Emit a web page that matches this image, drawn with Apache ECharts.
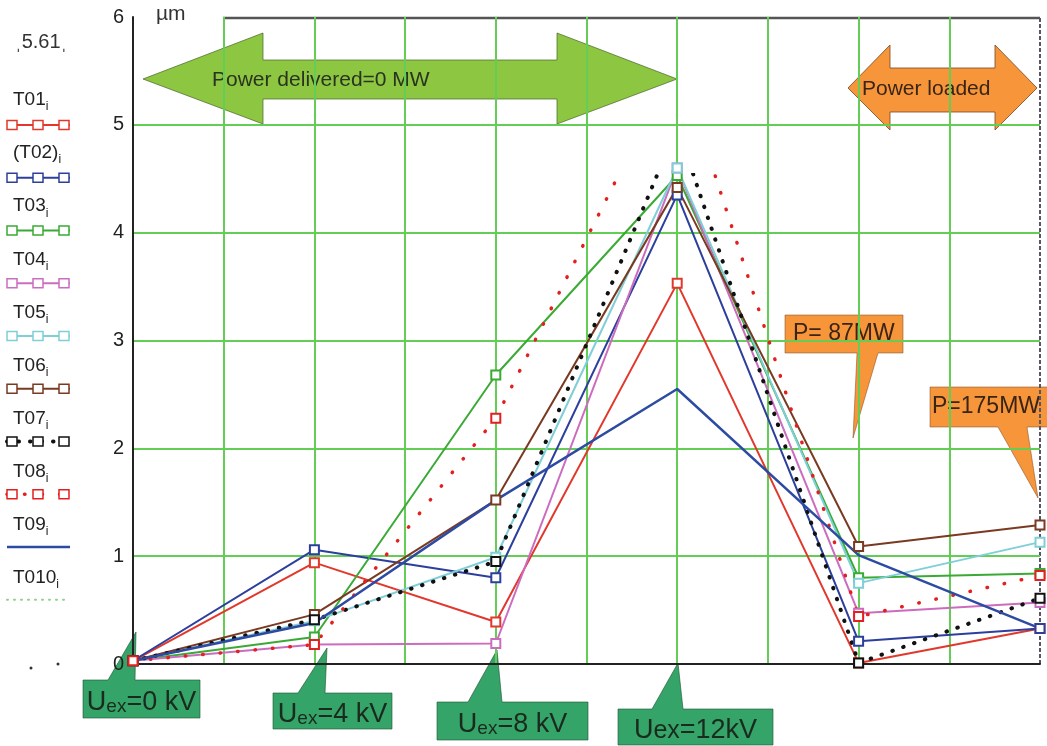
<!DOCTYPE html>
<html>
<head>
<meta charset="utf-8">
<script src="https://cdn.jsdelivr.net/npm/echarts@6.0.0/dist/echarts.min.js"></script>
<style>
html,body{margin:0;padding:0;background:#fff;}
#chart{width:1047px;height:746px;}
</style>
</head>
<body>
<div id="chart"></div>
<script>
// ---- data ----
// x stage positions on a 0..10 grid: Uex=0,4,8,12 kV, then P=87 MW, P=175 MW
const stageX = [0, 2, 4, 6, 8, 10];
const stageLabels = ['0 kV', '4 kV', '8 kV', '12kV', 'P= 87MW', 'P=175MW'];
const yTickValues = [0, 1, 2, 3, 4, 5, 6];

const T01  = [0.03, 0.94, 0.39, 3.53, 0.01, 0.33];
const T02  = [0.03, 1.06, 0.80, 4.35, 0.21, 0.33];
const T03  = [0.03, 0.25, 2.68, 4.53, 0.80, 0.84];
const T04  = [0.03, 0.18, 0.19, 4.60, 0.47, 0.57];
const T05  = [0.03, 0.40, 0.99, 4.60, 0.75, 1.13];
const T06  = [0.03, 0.46, 1.52, 4.42, 1.09, 1.29];
const T07  = [0.03, 0.41, 0.95, 4.98, 0.01, 0.61];
const T08  = [0.03, 0.18, 2.28, 5.61, 0.44, 0.82];
const T09  = [0.03, 0.38, 1.52, 2.55, 1.01, 0.33];
const T010 = [];

const seriesNames = ['T01', '(T02)', 'T03', 'T04', 'T05', 'T06', 'T07', 'T08', 'T09', 'T010'];
const seriesValues = [T01, T02, T03, T04, T05, T06, T07, T08, T09, T010];

// level above which the dotted traces are not visible in the original figure
const HIDE_ABOVE = 4.55;

// ---- styles ----
const styles = [
  {color: '#e2382c', dash: 'solid', width: 2, sym: true},
  {color: '#2c3f9c', dash: 'solid', width: 2, sym: true},
  {color: '#3aaa35', dash: 'solid', width: 2, sym: true},
  {color: '#cc6cbf', dash: 'solid', width: 2, sym: true},
  {color: '#7fcfd8', dash: 'solid', width: 2, sym: true},
  {color: '#7a3a22', dash: 'solid', width: 2, sym: true},
  {color: '#111111', dash: [0.5, 11], width: 4, sym: true, cap: 'round', vm: true},
  {color: '#e32020', dash: [0.5, 17], width: 3.5, sym: true, cap: 'round', vm: true},
  {color: '#2d4ba3', dash: 'solid', width: 2.5, sym: false},
  {color: '#8fd08a', dash: [1, 6], width: 2, sym: false, cap: 'round'}
];

const FONT = '"Liberation Sans", Arial, sans-serif';
const GRID_GREEN = '#63cd55';

const series = seriesNames.map((name, i) => {
  const st = styles[i];
  const s = {
    name: name,
    type: 'line',
    data: seriesValues[i].map((v, j) => [stageX[j], v]),
    symbol: st.sym ? (st.vm ? (val => (val[1] > HIDE_ABOVE ? 'none' : 'emptyRect')) : 'emptyRect') : 'none',
    symbolSize: 9,
    showSymbol: st.sym,
    z: 3,
    lineStyle: {width: st.width, type: st.dash, cap: st.cap || 'butt'},
    itemStyle: {borderWidth: 1.5},
    emphasis: {disabled: true}
  };
  if (!st.vm) {
    s.lineStyle.color = st.color;
    s.itemStyle.color = st.color;
    s.itemStyle.borderColor = st.color;
  }
  return s;
});

// ---- legend drawn as graphics (text above, line sample below) ----
const legendEls = [];
seriesNames.forEach((name, k) => {
  const st = styles[k];
  const ty = 100 + 53.1 * k;
  const iy = 125 + 52.75 * k;
  legendEls.push({
    type: 'text', x: 13, y: ty,
    style: {
      text: '{t|' + name + '}{s|i}',
      rich: {
        t: {fontSize: 19, fontFamily: FONT, fill: '#222', verticalAlign: 'middle', lineHeight: 26},
        s: {fontSize: 12, fontFamily: FONT, fill: '#222', verticalAlign: 'bottom', lineHeight: 26}
      },
      verticalAlign: 'middle'
    }
  });
  legendEls.push({
    type: 'line', shape: {x1: 7, y1: iy, x2: 70, y2: iy},
    style: {stroke: st.color, lineWidth: st.width, lineDash: Array.isArray(st.dash) ? st.dash : null, lineCap: st.cap || 'butt'}
  });
  if (st.sym) {
    [12, 38, 64].forEach(cx => {
      legendEls.push({
        type: 'rect', shape: {x: cx - 5, y: iy - 4.5, width: 10, height: 9},
        style: {fill: '#fff', stroke: st.color, lineWidth: 1.5}
      });
    });
  }
});

// ---- annotations ----
const annEls = [
  // green double arrow
  {type: 'polygon', z: -1,
   shape: {points: [[143,79],[263,33],[263,60],[557,60],[557,33],[677,79],[557,124],[557,99],[263,99],[263,124]]},
   style: {fill: '#8dc641', stroke: 'rgba(70,100,40,0.7)', lineWidth: 1}},
  {type: 'text', z: -1, z2: 10, x: 212, y: 80,
   style: {text: 'Power delivered=0 MW', fontSize: 21, fontFamily: FONT, fill: '#2a3320', verticalAlign: 'middle'}},
  // orange double arrow
  {type: 'polygon', z: -1,
   shape: {points: [[848,88],[890,45],[890,68],[995,68],[995,45],[1037,88],[995,130],[995,112],[890,112],[890,130]]},
   style: {fill: '#f7953b', stroke: 'rgba(120,70,30,0.8)', lineWidth: 1}},
  {type: 'text', z: -1, z2: 10, x: 862, y: 89,
   style: {text: 'Power loaded', fontSize: 21, fontFamily: FONT, fill: '#3a2414', verticalAlign: 'middle'}},
  // P=87MW callout
  {type: 'polygon', z: -1,
   shape: {points: [[785,315],[903,315],[903,353],[878,353],[853,438],[857,353],[785,353]]},
   style: {fill: '#f7953b', stroke: 'rgba(120,70,30,0.5)', lineWidth: 1}},
  {type: 'text', z: -1, z2: 10, x: 793, y: 334,
   style: {text: 'P= 87MW', fontSize: 23, fontFamily: FONT, fill: '#3a2414', verticalAlign: 'middle'}},
  // P=175MW callout
  {type: 'polygon', z: -1,
   shape: {points: [[930,387],[1050,387],[1050,427],[1027,427],[1038,498],[998,427],[930,427]]},
   style: {fill: '#f7953b', stroke: 'rgba(120,70,30,0.5)', lineWidth: 1}},
  {type: 'text', z: -1, z2: 10, x: 932, y: 407,
   style: {text: 'P=175MW', fontSize: 23, fontFamily: FONT, fill: '#3a2414', verticalAlign: 'middle'}}
];

const uexBoxes = [
  {box: [83, 680, 200, 718], ptr: [[108,680],[136,632],[135,680]], small: true},
  {box: [273, 693, 392, 729], ptr: [[298,693],[327,648],[325,693]], small: true},
  {box: [437, 702, 588, 740], ptr: [[468,702],[497,650],[502,702]], small: true},
  {box: [618, 709, 773, 745], ptr: [[652,709],[678,663],[683,709]], small: false}
];
uexBoxes.forEach((b, i) => {
  const [x1, y1, x2, y2] = b.box;
  annEls.push({type: 'polygon', z: -1,
    shape: {points: [[x1,y1], b.ptr[0], b.ptr[1], b.ptr[2], [x2,y1], [x2,y2], [x1,y2]]},
    style: {fill: '#35a468', stroke: 'rgba(30,80,50,0.6)', lineWidth: 1}});
  const val = stageLabels[i];
  annEls.push({type: 'text', z: -1, z2: 10, x: (x1 + x2) / 2, y: (y1 + y2) / 2 + 1,
    style: {
      text: '{u|U}{e|ex}{u|=' + val + '}',
      rich: {
        u: {fontSize: 27, fontFamily: FONT, fill: '#1b2a1e', verticalAlign: 'bottom', lineHeight: 32},
        e: {fontSize: b.small ? 19 : 25, fontFamily: FONT, fill: '#1b2a1e', verticalAlign: 'bottom', lineHeight: 32}
      },
      align: 'center', verticalAlign: 'middle'
    }});
});

const frameEls = [
  {type: 'line', shape: {x1: 223, y1: 18, x2: 1040, y2: 18}, style: {stroke: '#555', lineWidth: 2.5}},
  {type: 'line', shape: {x1: 1040, y1: 18, x2: 1040, y2: 664}, style: {stroke: '#556', lineWidth: 2, lineDash: [4, 2]}},
  {type: 'text', x: 156, y: 14, style: {text: 'µm', fontSize: 21, fontFamily: FONT, fill: '#333', verticalAlign: 'middle'}},
  {type: 'text', x: 15, y: 42, style: {text: 'ˌ5.61ˌ', fontSize: 20, fontFamily: FONT, fill: '#333', verticalAlign: 'middle'}},
  {type: 'circle', shape: {cx: 31, cy: 668, r: 1.5}, style: {fill: '#333'}},
  {type: 'circle', shape: {cx: 58, cy: 664, r: 1.5}, style: {fill: '#333'}}
];

const option = {
  backgroundColor: '#ffffff',
  animation: false,
  grid: {left: 133, right: 7, top: 17, bottom: 82, containLabel: false},
  xAxis: {
    type: 'value', min: 0, max: 10, interval: 1,
    axisLabel: {show: false},
    axisTick: {show: false},
    axisLine: {show: true, lineStyle: {color: '#222', width: 2}},
    splitLine: {show: true, showMinLine: false, showMaxLine: false, lineStyle: {color: GRID_GREEN, width: 2}}
  },
  yAxis: {
    type: 'value', min: yTickValues[0], max: yTickValues[yTickValues.length - 1], interval: 1,
    axisLabel: {fontSize: 20, fontFamily: FONT, color: '#222', margin: 9},
    axisTick: {show: false},
    axisLine: {show: true, lineStyle: {color: '#222', width: 2}},
    splitLine: {show: true, showMinLine: false, showMaxLine: false, lineStyle: {color: GRID_GREEN, width: 2}}
  },
  visualMap: [
    {type: 'piecewise', show: false, seriesIndex: 6, dimension: 1,
     pieces: [{min: -1, max: HIDE_ABOVE, color: styles[6].color}, {gt: HIDE_ABOVE, lte: 10, color: 'rgba(0,0,0,0)'}]},
    {type: 'piecewise', show: false, seriesIndex: 7, dimension: 1,
     pieces: [{min: -1, max: HIDE_ABOVE, color: styles[7].color}, {gt: HIDE_ABOVE, lte: 10, color: 'rgba(0,0,0,0)'}]}
  ],
  graphic: {elements: annEls.concat(frameEls, legendEls)},
  series: series
};

const chart = echarts.init(document.getElementById('chart'), null, {renderer: 'canvas'});
chart.setOption(option);
</script>
</body>
</html>
